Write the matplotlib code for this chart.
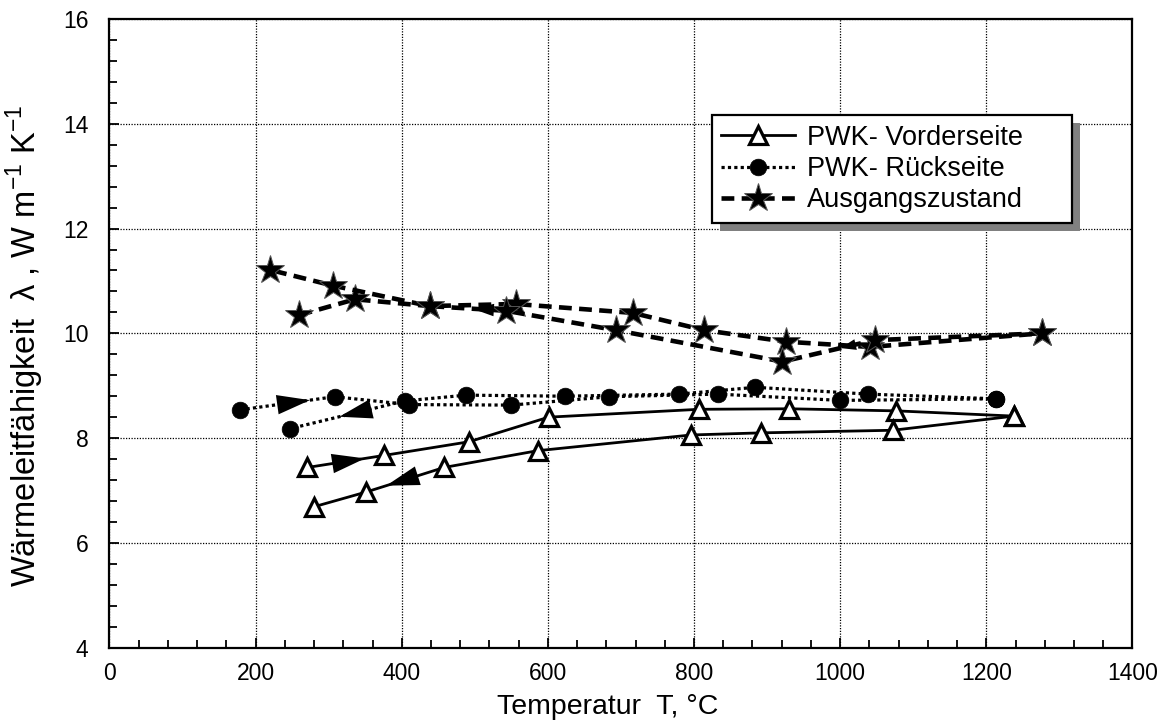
import matplotlib
matplotlib.use("Agg")
import matplotlib.pyplot as plt
from matplotlib.patches import Rectangle
from matplotlib.transforms import IdentityTransform
from matplotlib.ticker import MultipleLocator

plt.rcParams['font.family'] = ['Liberation Sans', 'DejaVu Sans']
plt.rcParams['mathtext.fontset'] = 'custom'
plt.rcParams['mathtext.rm'] = 'Liberation Sans'

# ---- data ----
vord_heat_T = [271, 376, 492, 601, 807, 930, 1077, 1238]
vord_heat_L = [7.44, 7.67, 7.93, 8.40, 8.55, 8.56, 8.52, 8.42]
vord_cool_T = [1238, 1072, 891, 796, 586, 458, 351, 280]
vord_cool_L = [8.42, 8.15, 8.10, 8.06, 7.76, 7.44, 6.97, 6.69]

rueck_heat_T = [179, 308, 410, 550, 684, 833, 1000, 1213]
rueck_heat_L = [8.54, 8.79, 8.64, 8.63, 8.79, 8.84, 8.72, 8.75]
rueck_cool_T = [1213, 1038, 884, 780, 624, 488, 404, 247]
rueck_cool_L = [8.75, 8.84, 8.97, 8.84, 8.80, 8.82, 8.71, 8.18]

ausg_heat_T = [260, 336, 438, 556, 716, 814, 926, 1041, 1276]
ausg_heat_L = [10.35, 10.65, 10.52, 10.56, 10.39, 10.06, 9.84, 9.74, 10.00]
ausg_cool_T = [1276, 1047, 921, 693, 543, 438, 306, 220]
ausg_cool_L = [10.00, 9.87, 9.46, 10.06, 10.43, 10.52, 10.91, 11.21]

labels = ["PWK- Vorderseite", "PWK- Rückseite", "Ausgangszustand"]
xlabel = "Temperatur  T, °C"
ylabel = r"Wärmeleitfähigkeit  λ , W m$^{\mathregular{-1}}$ K$^{\mathregular{-1}}$"

fig = plt.figure(figsize=(11.57, 7.27), dpi=100)
ax = fig.add_axes([0.0946, 0.1091, 0.8842, 0.8648])

sty_v = dict(color='black', ls='-', lw=2.0, marker='^', ms=13, mfc='white', mec='black', mew=2.3)
sty_r = dict(color='black', ls=(0, (1, 1)), lw=2.3, marker='o', ms=12, mfc='black', mec='black', mew=0.5)
sty_a = dict(color='black', ls=(0, (2.8, 1.6)), lw=3.3, marker='*', ms=21, mfc='black', mec='#555555', mew=0.7)

lv, = ax.plot(vord_heat_T, vord_heat_L, zorder=3, **sty_v)
ax.plot(vord_cool_T, vord_cool_L, zorder=3, **sty_v)
lr, = ax.plot(rueck_heat_T, rueck_heat_L, zorder=3, **sty_r)
ax.plot(rueck_cool_T, rueck_cool_L, zorder=3, **sty_r)
la, = ax.plot(ausg_heat_T, ausg_heat_L, zorder=3, **sty_a)
ax.plot(ausg_cool_T, ausg_cool_L, zorder=3, **sty_a)


def arrow_on(T, L, i, f, hl=1.7, hw=0.5, ms=14):
    x0, y0 = T[i], L[i]
    x1, y1 = T[i + 1], L[i + 1]
    tip = (x0 + f * (x1 - x0), y0 + f * (y1 - y0))
    g = f - 0.15
    tail = (x0 + g * (x1 - x0), y0 + g * (y1 - y0))
    ax.annotate('', xy=tip, xytext=tail, zorder=4,
                arrowprops=dict(arrowstyle=f'-|>,head_length={hl},head_width={hw}',
                                color='black', lw=0, mutation_scale=ms, shrinkA=0, shrinkB=0))


arrow_on(vord_heat_T, vord_heat_L, 0, 0.75)
arrow_on(vord_cool_T, vord_cool_L, 5, 0.74)
arrow_on(rueck_heat_T, rueck_heat_L, 0, 0.74)
arrow_on(rueck_cool_T, rueck_cool_L, 6, 0.57)
arrow_on(ausg_cool_T, ausg_cool_L, 4, 0.44, hl=1.1, hw=0.32)
arrow_on(ausg_cool_T, ausg_cool_L, 1, 0.37, hl=0.8, hw=0.28)

ax.set_xlim(0, 1400)
ax.set_ylim(4, 16)
ax.xaxis.set_major_locator(MultipleLocator(200))
ax.xaxis.set_minor_locator(MultipleLocator(40))
ax.yaxis.set_major_locator(MultipleLocator(2))
ax.yaxis.set_minor_locator(MultipleLocator(0.4))
ax.tick_params(which='both', direction='in', top=False, right=False, width=1.3, labelsize=16.5)
ax.tick_params(which='major', length=7)
ax.tick_params(which='minor', length=6)
ax.tick_params(axis='x', which='major', pad=10)
ax.tick_params(axis='y', which='major', pad=15)
ax.grid(True, which='major', color='black', ls=(0, (1, 1.2)), lw=0.9)
for s in ax.spines.values():
    s.set_linewidth(1.6)
ax.set_axisbelow(True)

ax.set_xlabel(xlabel, fontsize=20.5)
ax.set_ylabel(ylabel, fontsize=23.5)
ax.xaxis.set_label_coords(0.487, -0.073)
ax.yaxis.set_label_coords(-0.062, 0.481)

leg = ax.legend([lv, lr, la], labels, loc='upper left',
                bbox_to_anchor=(0.589, 0.847, 0.352, 0.0), mode='expand',
                fontsize=19.5, frameon=True, fancybox=False, framealpha=1,
                edgecolor='black', handlelength=2.7, handletextpad=0.45,
                labelspacing=0.2, borderpad=0.35, borderaxespad=0)
leg.get_frame().set_linewidth(1.6)
leg.set_zorder(6)

fig.canvas.draw()
bb = leg.get_window_extent()
sh = Rectangle((bb.x0 + 8, bb.y0 - 8), bb.width, bb.height, transform=IdentityTransform(),
               facecolor='#808080', edgecolor='none', zorder=5.5, clip_on=False)
ax.add_artist(sh)

fig.savefig('out.png', dpi=100)
